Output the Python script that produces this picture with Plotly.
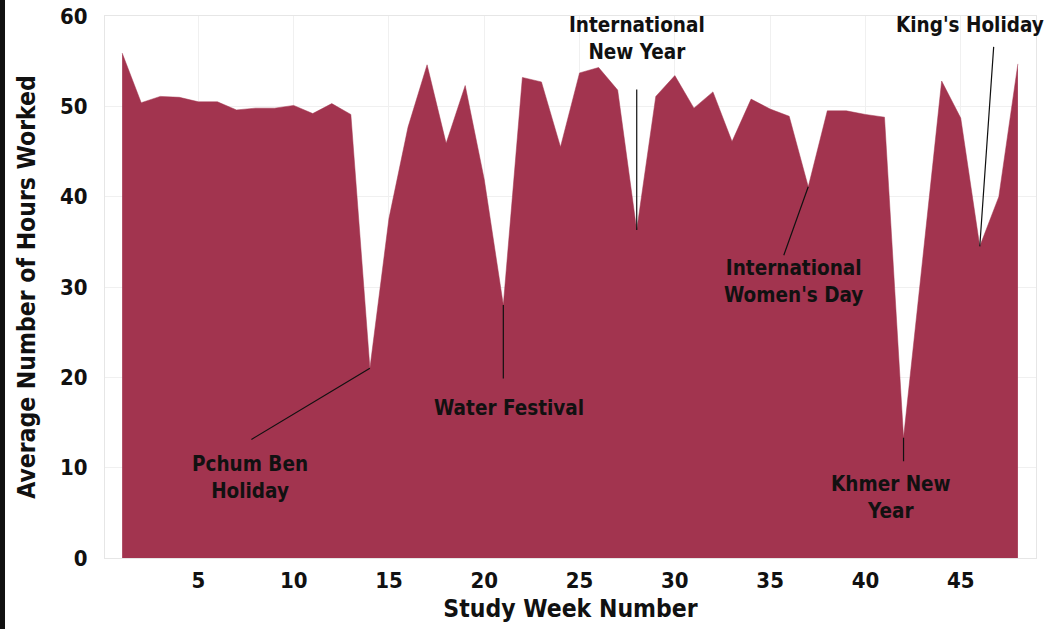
import plotly.graph_objects as go

# average hours worked per study week
weeks = list(range(1, 49))
hours = [55.9, 50.4, 51.1, 51.0, 50.5, 50.5, 49.6, 49.8, 49.8, 50.1, 49.2, 50.3, 49.1,
         21.0, 37.6, 47.7, 54.6, 45.9, 52.3, 41.9,
         28.0, 53.2, 52.7, 45.5, 53.7, 54.3, 51.8,
         36.3, 51.1, 53.4, 49.8, 51.6, 46.1, 50.8,
         49.7, 48.9, 41.1, 49.5, 49.5, 49.1, 48.8,
         13.3, 33.0, 52.8, 48.7, 34.5, 40.0, 54.7]

holiday_weeks = [14, 21, 28, 37, 42, 46]
holiday_labels = ["Pchum Ben<br>Holiday", "Water Festival", "International<br>New Year",
                  "International<br>Women's Day", "Khmer New<br>Year", "King's Holiday"]

y_ticks = [0, 10, 20, 30, 40, 50, 60]
x_ticks = [5, 10, 15, 20, 25, 30, 35, 40, 45]

FONT = "DejaVu Sans Condensed, DejaVu Sans, sans-serif"
FILL = "#A2344F"

fig = go.Figure()
fig.add_trace(go.Scatter(x=weeks, y=hours, mode="lines", fill="tozeroy",
                         line=dict(color=FILL, width=0.5), fillcolor=FILL,
                         showlegend=False))

# (text xshift, text yshift, arrow tail ax, ay) in pixels
offsets = [(-120, -109, -120, 72),
           (6, -103, 0, 75),
           (0, 192, 0, -142),
           (-15, -95, -25, 70),
           (-13, -60, 0, 25),
           (-10, 221, 14, -201)]

for wk, lab, (xs, ys, ax, ay) in zip(holiday_weeks, holiday_labels, offsets):
    val = hours[weeks.index(wk)]
    fig.add_annotation(x=wk, y=val, text="", showarrow=True, arrowhead=0,
                       arrowwidth=1.2, arrowcolor="#111", ax=ax, ay=ay,
                       standoff=0, startstandoff=0)
    fig.add_annotation(x=wk, y=val, text=lab, showarrow=False, xshift=xs, yshift=ys,
                       xanchor="center", yanchor="middle",
                       font=dict(family=FONT, size=20.5, color="#111", weight="bold"))

# dark strip along the left edge of the picture
fig.add_shape(type="rect", xref="paper", yref="paper", x0=-0.1128, x1=-0.1074, y0=-0.2, y1=1.1,
              fillcolor="#111", line=dict(width=0))

fig.update_layout(width=1051, height=629, margin=dict(l=105, r=15, t=16, b=71),
                  plot_bgcolor="white", paper_bgcolor="white",
                  font=dict(family=FONT, color="#111"))
fig.update_xaxes(range=[0.1, 48.95], tickvals=x_ticks, showgrid=True, gridcolor="#f0f0f0",
                 zeroline=False, showline=True, linecolor="#e6e6e6", mirror=True,
                 automargin=False, tickfont=dict(size=22, weight="bold"), ticklabelstandoff=3,
                 title=dict(text="Study Week Number", font=dict(size=24.5, weight="bold"), standoff=7))
fig.update_yaxes(range=[0, 60], tickvals=y_ticks, showgrid=True, gridcolor="#f0f0f0",
                 zeroline=False, showline=True, linecolor="#e6e6e6", mirror=True,
                 automargin=False, tickfont=dict(size=22, weight="bold"), ticklabelstandoff=12,
                 ticklabeloverflow="allow",
                 title=dict(text="Average Number of Hours Worked", font=dict(size=24.5, weight="bold"),
                            standoff=17))

# the page's default body margin would shift the figure by 8px
fig.write_html("out.html", config={"displayModeBar": False},
               post_script="document.body.style.margin='0px';")
